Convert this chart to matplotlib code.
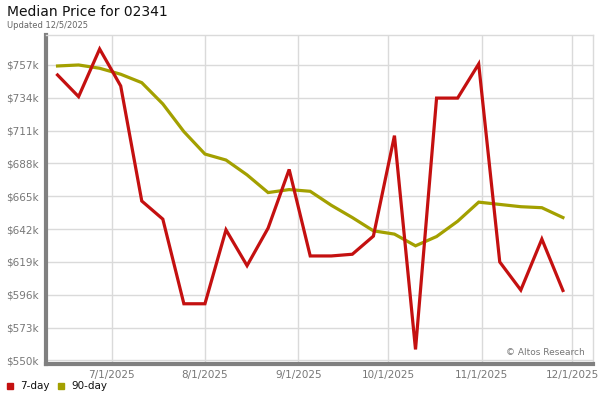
import matplotlib
matplotlib.use("Agg")
import matplotlib.pyplot as plt
import matplotlib.dates as mdates
import numpy as np
import datetime as dt

start = dt.date(2025, 6, 13)
dates = [start + dt.timedelta(days=7 * i) for i in range(25)]

day7 = [750.0, 734.8, 768.2, 742.3, 661.7, 649.0, 589.7, 589.7, 641.5, 616.4,
        642.7, 683.8, 623.2, 623.2, 624.4, 637.1, 707.5, 557.7, 733.8, 733.8,
        757.7, 619.0, 599.3, 635.0, 599.0]
day90 = [756.3, 757.0, 754.7, 750.5, 744.6, 729.7, 710.3, 694.6, 690.4, 680.0,
         667.6, 669.7, 668.5, 658.7, 650.1, 640.8, 638.5, 630.3, 636.8, 647.5,
         660.9, 659.3, 657.7, 657.0, 650.1]

yticks = [550, 573, 596, 619, 642, 665, 688, 711, 734, 757]
xtick_dates = [dt.date(2025, m, 1) for m in (7, 8, 9, 10, 11, 12)]
xtick_labels = ["7/1/2025", "8/1/2025", "9/1/2025", "10/1/2025", "11/1/2025", "12/1/2025"]

RED = "#c41010"
OLIVE = "#a3a000"
GRID = "#dadada"
TXT = "#777777"

fig = plt.figure(figsize=(6, 4), dpi=100)
ax = fig.add_axes([45.5 / 600, 1 - 364 / 400, (593 - 45.5) / 600, (364 - 35) / 400])

ax.plot(dates, day90, color=OLIVE, lw=2.3, solid_joinstyle="miter", zorder=3)
ax.plot(dates, day7, color=RED, lw=2.3, solid_joinstyle="miter", zorder=4)

ax.set_ylim(547.5, 778)
ax.set_xlim(dt.date(2025, 6, 9), dt.date(2025, 12, 8) + dt.timedelta(hours=8))
ax.set_yticks(yticks)
ax.set_yticklabels([f"${v}k" for v in yticks])
ax.set_xticks(xtick_dates)
ax.set_xticklabels(xtick_labels)
ax.grid(True, color=GRID, lw=1)
ax.set_axisbelow(True)
ax.tick_params(length=0, labelsize=7.5, labelcolor=TXT, pad=5)
ax.tick_params(axis="x", pad=4)

for s in ("top", "right"):
    ax.spines[s].set_color(GRID)
    ax.spines[s].set_linewidth(1)
for s in ("left", "bottom"):
    ax.spines[s].set_color("#808080")
    ax.spines[s].set_linewidth(3)

fig.text(7 / 600, 1 - 12 / 400, "Median Price for 02341", fontsize=10, va="center", ha="left", color="#111111")
fig.text(7 / 600, 1 - 25 / 400, "Updated 12/5/2025", fontsize=6, va="center", ha="left", color="#666666")
ax.text(0.985, 0.02, "© Altos Research", transform=ax.transAxes, fontsize=6.5,
        ha="right", va="bottom", color="#777777")

# legend
fig.patches.append(plt.Rectangle((7 / 600, 1 - 389 / 400), 6 / 600, 6 / 400,
                                 transform=fig.transFigure, color=RED, figure=fig))
fig.text(20 / 600, 1 - 386 / 400, "7-day", fontsize=7.5, va="center", ha="left", color="#111111")
fig.patches.append(plt.Rectangle((58 / 600, 1 - 389 / 400), 6 / 600, 6 / 400,
                                 transform=fig.transFigure, color=OLIVE, figure=fig))
fig.text(71 / 600, 1 - 386 / 400, "90-day", fontsize=7.5, va="center", ha="left", color="#111111")

fig.savefig("out.png", dpi=100)
